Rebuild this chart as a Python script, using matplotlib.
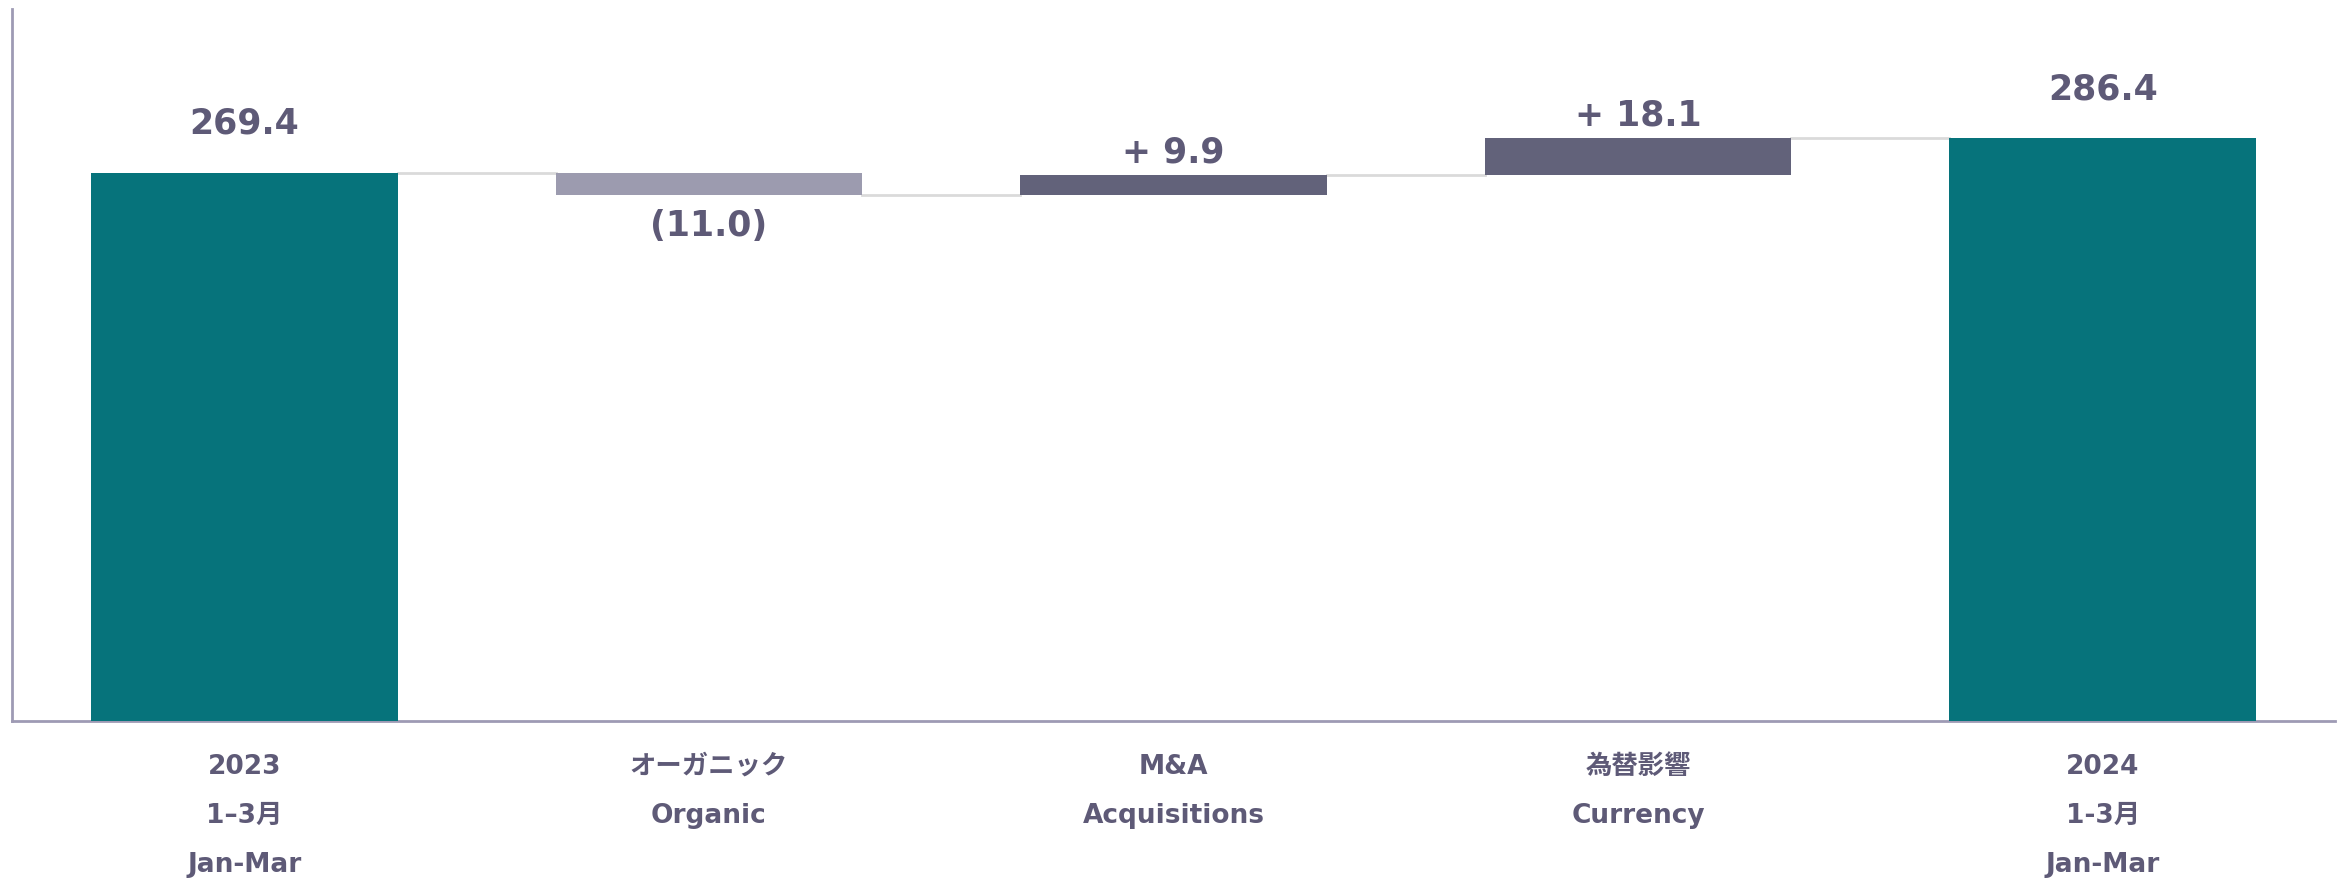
import matplotlib
matplotlib.use("Agg")
import matplotlib.pyplot as plt
import numpy as np

plt.rcParams['font.family'] = ['DejaVu Sans', 'Noto Sans CJK JP']

categories = ["2023\n1–3月\nJan-Mar", "オーガニック\nOrganic", "M&A\nAcquisitions",
              "為替影響\nCurrency", "2024\n1-3月\nJan-Mar"]
start_total = 269.4
changes = [-11.0, 9.9, 18.1]
end_total = 286.4
labels = ["269.4", "(11.0)", "+ 9.9", "+ 18.1", "286.4"]

teal = "#06737B"
neg_col = "#9C9BAF"
pos_col = "#62627A"
text_col = "#5E5A77"
spine_col = "#9E9AB4"
conn_col = "#DADADA"

fig = plt.figure(figsize=(23.46, 8.79), dpi=100)
ax = fig.add_axes([12/2346, 157/879, 2323/2346, 712/879])

x = np.arange(len(categories))
width = 0.66

bottoms, heights, colors = [], [], []
bottoms.append(0); heights.append(start_total); colors.append(teal)
level = start_total
for c in changes:
    if c < 0:
        bottoms.append(level + c); heights.append(-c); colors.append(neg_col)
    else:
        bottoms.append(level); heights.append(c); colors.append(pos_col)
    level += c
bottoms.append(0); heights.append(end_total); colors.append(teal)

ax.bar(x, heights, bottom=bottoms, width=width, color=colors, zorder=3)

# connectors
levels = [start_total]
lv = start_total
for c in changes:
    lv += c
    levels.append(lv)
for i, lvl in enumerate(levels):
    ax.plot([x[i] + width/2, x[i+1] - width/2], [lvl, lvl], color=conn_col, lw=2, zorder=2)

# labels
tops = [b + h for b, h in zip(bottoms, heights)]
for i, lab in enumerate(labels):
    if i in (0, len(labels) - 1):
        ax.annotate(lab, (x[i], tops[i]), xytext=(0, 36), textcoords='offset points',
                    ha='center', va='center', fontsize=25, fontweight='bold', color=text_col)
    elif changes[i-1] < 0:
        ax.annotate(lab, (x[i], bottoms[i]), xytext=(0, -21), textcoords='offset points',
                    ha='center', va='center', fontsize=25, fontweight='bold', color=text_col)
    else:
        ax.annotate(lab, (x[i], tops[i]), xytext=(0, 17), textcoords='offset points',
                    ha='center', va='center', fontsize=25, fontweight='bold', color=text_col)

ax.set_xlim(-0.5, 4.5)
ax.set_ylim(0, 350)
ax.set_xticks(x)
ax.set_xticklabels(categories, fontsize=19, fontweight='bold', color=text_col, linespacing=2.15)
ax.tick_params(axis='x', length=0, pad=23)
ax.set_yticks([])
for s in ['top', 'right']:
    ax.spines[s].set_visible(False)
for s in ['left', 'bottom']:
    ax.spines[s].set_color(spine_col)
    ax.spines[s].set_linewidth(2)

fig.savefig("out.png", dpi=100, facecolor='white')
